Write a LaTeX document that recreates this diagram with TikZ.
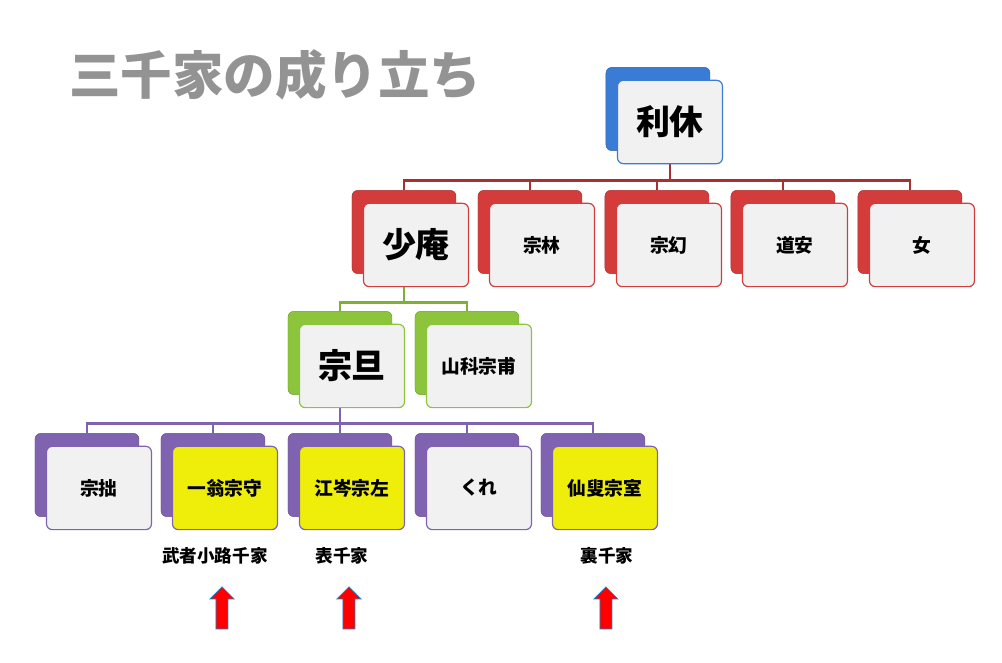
\documentclass[tikz,border=0pt]{standalone}
\usepackage{fontspec}
\setmainfont{Noto Sans CJK JP}
\usetikzlibrary{positioning}
\pgfdeclarelayer{bg}
\pgfsetlayers{bg,main}

\definecolor{rikyublue}{HTML}{3A7BD5}
\definecolor{shoanred}{HTML}{D43B3B}
\definecolor{sotangreen}{HTML}{8CC43C}
\definecolor{sonpurple}{HTML}{8063B0}
\definecolor{paper}{HTML}{F1F1F1}
\definecolor{senke}{HTML}{EEEE0A}

\tikzset{
  back/.style={draw=#1!80!black,fill=#1,rounded corners=5pt,minimum width=3.12cm,minimum height=2.5cm,inner sep=0pt},
  front/.style={draw=#1,line width=1pt,fill=paper,rounded corners=5pt,minimum width=3.15cm,minimum height=2.5cm,inner sep=0pt,font=\bfseries\fontsize{16}{16}\selectfont},
  bigname/.style={font=\bfseries\fontsize{29}{29}\selectfont},
  link/.style={line width=2.5pt,#1},
  school/.style={font=\bfseries\fontsize{15}{15}\selectfont},
  uparrow/.style={draw=cyan!70!blue,fill=red,line width=0.6pt}
}

% back box at (x,y) px, front offset by 12px
\newcommand{\famnode}[6]{%
  \node[back=#4] (#1b) at ({(#2+52)*0.03},{-(#3+41)*0.03}) {};
  \node[front=#4,#5] (#1) at ({(#2+64)*0.03},{-(#3+54)*0.03}) {#6};
}
% red up arrow, tip at the coordinate
\newcommand{\uparr}[1]{%
  \draw[uparrow] (#1) -- ++(0.36,-0.36) -- ++(-0.18,0) -- ++(0,-0.9) -- ++(-0.36,0) -- ++(0,0.9) -- ++(-0.18,0) -- cycle;
}

\begin{document}
\begin{tikzpicture}
\useasboundingbox (0,0) rectangle (30.06,-19.86);

\node[font=\bfseries\fontsize{44}{44}\selectfont,text=gray!85,anchor=west] (title) at (1.95,-2.25) {三千家の成り立ち};

\famnode{rikyu}{606}{68}{rikyublue}{bigname}{利休}

\famnode{shoan}{352}{191}{shoanred}{bigname}{少庵}
\famnode{sorin}{478}{191}{shoanred}{}{宗林}
\famnode{sogen}{605}{191}{shoanred}{}{宗幻}
\famnode{doan}{731}{191}{shoanred}{}{道安}
\famnode{onna}{858}{191}{shoanred}{}{女}

\famnode{sotan}{288}{312}{sotangreen}{bigname}{宗旦}
\famnode{soho}{415}{312}{sotangreen}{}{山科宗甫}

\famnode{sosetsu}{35}{434}{sonpurple}{}{宗拙}
\famnode{ichio}{161}{434}{sonpurple}{fill=senke}{一翁宗守}
\famnode{koshin}{288}{434}{sonpurple}{fill=senke}{江岑宗左}
\famnode{kure}{415}{434}{sonpurple}{}{くれ}
\famnode{sensou}{541}{434}{sonpurple}{fill=senke}{仙叟宗室}

% connectors
\begin{pgfonlayer}{bg}
\foreach \c in {shoanb,sorinb,sogenb,doanb,onnab}
  \draw[link=shoanred!80!black] (rikyu.south) -- ++(0,-0.5) -| (\c.north);
\foreach \c in {sotanb,sohob}
  \draw[link=sotangreen!90!black] (shoanb.south) -- ++(0,-0.85) -| (\c.north);
\foreach \c in {sosetsub,ichiob,koshinb,kureb,sensoub}
  \draw[link=sonpurple] (sotanb.south) -- ++(0,-0.85) -| (\c.north);
\end{pgfonlayer}

\node[school] (mushanokoji) at ({215*0.03},{-556*0.03}) {武者小路千家};
\node[school] (omote) at ({342*0.03},{-556*0.03}) {表千家};
\node[school] (ura) at ({607*0.03},{-556*0.03}) {裏千家};

\coordinate (t1) at ({222*0.03},{-587*0.03});
\coordinate (t2) at ({349*0.03},{-587*0.03});
\coordinate (t3) at ({606*0.03},{-587*0.03});
\uparr{t1}
\uparr{t2}
\uparr{t3}
\end{tikzpicture}
\end{document}
